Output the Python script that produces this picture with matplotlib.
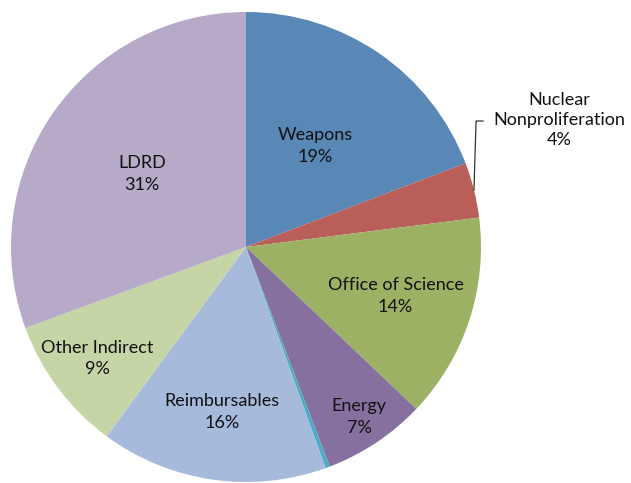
import numpy as np
import matplotlib
matplotlib.use('Agg')
import matplotlib.pyplot as plt

plt.rcParams['font.family'] = ['Lato', 'DejaVu Sans']

labels = ['Weapons', 'Nuclear\nNonproliferation', 'Office of Science', 'Energy', '',
          'Reimbursables', 'Other Indirect', 'LDRD']
shares = [19.2, 3.8, 14.1, 7.1, 0.3, 15.6, 9.3, 30.6]
colors = ['#5987b6', '#b95e59', '#9db164', '#8670a0', '#4bacc6',
          '#a6badb', '#c6d5a6', '#b6aac8']
label_dist = [0.52, None, 0.67, 0.87, None, 0.71, 0.79, 0.54]


def main():
    fig = plt.figure(figsize=(6.31, 4.83), dpi=100)
    ax = fig.add_axes([11 / 631, 1 / 483, 470 / 631, 470 / 483])
    wedges, _ = ax.pie(shares, colors=colors, startangle=90, counterclock=False,
                       radius=1.0, wedgeprops=dict(linewidth=0))
    ax.set_xlim(-1, 1)
    ax.set_ylim(-1, 1)
    ax.set_aspect('equal')
    ax.axis('off')

    for w, lab, val, d in zip(wedges, labels, shares, label_dist):
        if not lab:
            continue
        mid = np.deg2rad((w.theta1 + w.theta2) / 2)
        txt = '%s\n%.0f%%' % (lab, val)
        if d is None:
            # outside label with leader line
            x0, y0 = np.cos(mid), np.sin(mid)
            ax.plot([x0, 0.979, 1.009], [y0, 0.536, 0.536], color='#333333', lw=0.9,
                    clip_on=False)
            ax.text(1.332, 0.54, txt, ha='center', va='center', fontsize=13,
                    color='#111111', linespacing=1.3)
            continue
        ax.text(d * np.cos(mid), d * np.sin(mid), txt, ha='center', va='center',
                fontsize=13, color='#111111', linespacing=1.45)

    fig.savefig('out.png', dpi=100)


if __name__ == '__main__':
    main()
